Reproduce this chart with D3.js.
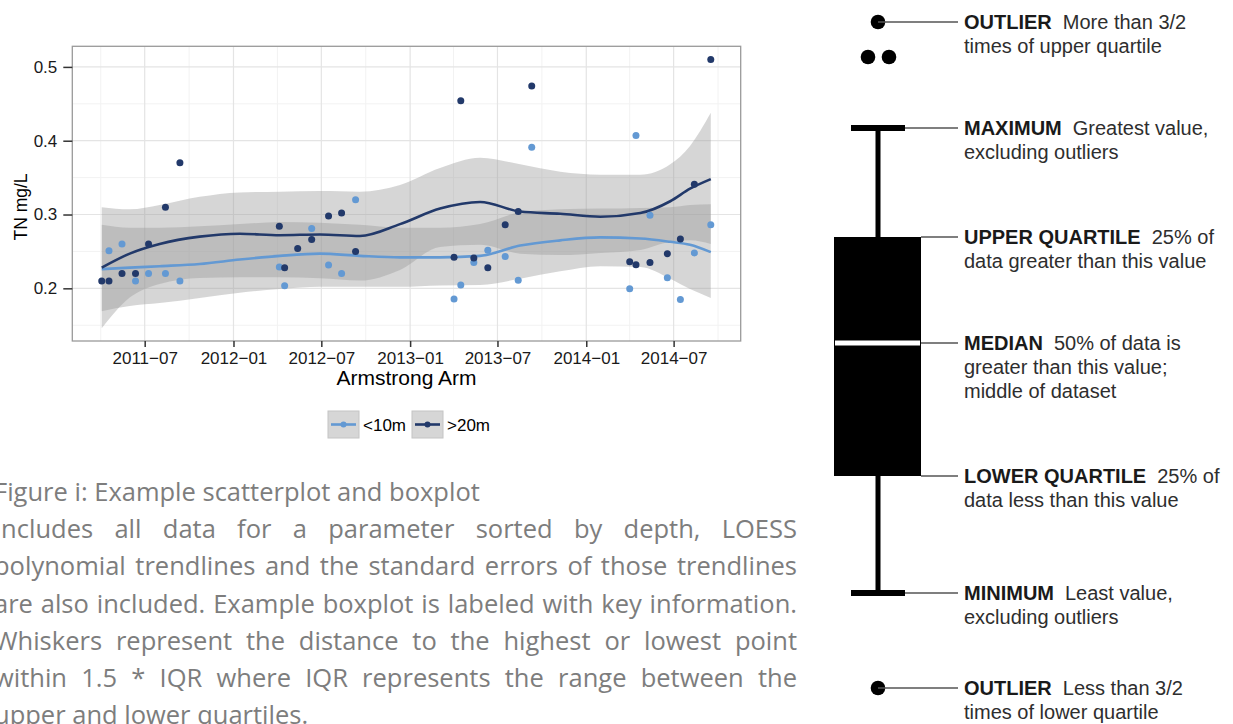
<!DOCTYPE html>
<html>
<head>
<meta charset="utf-8">
<script src="https://cdn.jsdelivr.net/npm/d3@7"></script>
<style>
  body { margin: 0; background: #fff; overflow: hidden; }
  svg { display: block; }
</style>
</head>
<body>
<script>
// ---- data ----
const seriesNames = ['<10m', '>20m'];
const seriesColors = ['#6399d3', '#22396a'];

const shallowDates = ['2011-04-18','2011-05-15','2011-06-12','2011-07-09','2011-08-13','2011-09-12',
  '2012-04-05','2012-04-16','2012-06-11','2012-07-16','2012-08-12','2012-09-10',
  '2013-04-02','2013-04-16','2013-05-13','2013-06-11','2013-07-17','2013-08-13','2013-09-10',
  '2014-04-01','2014-04-14','2014-05-13','2014-06-18','2014-07-15','2014-08-13','2014-09-16'];
const shallowTN = [0.251,0.260,0.210,0.220,0.220,0.210,
  0.229,0.2035,0.281,0.2315,0.220,0.320,
  0.1855,0.2045,0.235,0.2515,0.243,0.211,0.391,
  0.1995,0.407,0.299,0.2145,0.185,0.248,0.286];

const deepDates = ['2011-04-03','2011-04-18','2011-05-15','2011-06-12','2011-07-09','2011-08-13','2011-09-12',
  '2012-04-05','2012-04-16','2012-05-13','2012-06-11','2012-07-16','2012-08-12','2012-09-10',
  '2013-04-02','2013-04-16','2013-05-13','2013-06-11','2013-07-17','2013-08-13','2013-09-10',
  '2014-04-01','2014-04-14','2014-05-13','2014-06-18','2014-07-15','2014-08-13','2014-09-16'];
const deepTN = [0.210,0.210,0.220,0.220,0.260,0.310,0.370,
  0.284,0.228,0.254,0.266,0.298,0.302,0.250,
  0.242,0.454,0.241,0.228,0.286,0.304,0.474,
  0.236,0.232,0.235,0.247,0.267,0.341,0.510];

// LOESS fits and their standard-error bands, read at these dates
const fitDates = ['2011-04-03','2011-05-31','2011-08-01','2011-10-23','2012-01-14','2012-04-06',
  '2012-06-28','2012-09-19','2012-12-11','2013-03-04','2013-05-26','2013-08-17',
  '2013-11-08','2014-01-30','2014-04-23','2014-06-24','2014-08-04','2014-09-16'];
const shallowFit = [0.226,0.228,0.230,0.233,0.239,0.244,0.247,0.244,0.242,0.242,0.244,0.258,0.265,0.269,0.2675,0.263,0.259,0.249];
const shallowHi  = [0.286,0.282,0.282,0.284,0.287,0.290,0.289,0.286,0.282,0.282,0.287,0.303,0.307,0.308,0.309,0.310,0.313,0.314];
const shallowLo  = [0.169,0.176,0.180,0.187,0.194,0.199,0.202,0.202,0.202,0.204,0.2045,0.213,0.223,0.230,0.229,0.213,0.199,0.187];
const deepFit = [0.228,0.247,0.260,0.270,0.274,0.272,0.273,0.271,0.287,0.308,0.317,0.304,0.301,0.297,0.302,0.318,0.335,0.348];
const deepHi  = [0.310,0.307,0.313,0.324,0.330,0.331,0.332,0.331,0.340,0.363,0.377,0.368,0.358,0.354,0.354,0.368,0.393,0.438];
const deepLo  = [0.146,0.1875,0.206,0.214,0.215,0.215,0.2135,0.2106,0.225,0.256,0.259,0.247,0.245,0.248,0.252,0.263,0.265,0.260];

const xTickDates = ['2011-07-01','2012-01-01','2012-07-01','2013-01-01','2013-07-01','2014-01-01','2014-07-01'];
const xMinorDates = ['2011-04-01','2011-10-01','2012-04-01','2012-10-01','2013-04-01','2013-10-01','2014-04-01','2014-10-01'];
const yTicks = [0.2, 0.3, 0.4, 0.5];
const yMinor = [0.15, 0.25, 0.35, 0.45];

const captionLines = [
  'Figure i: Example scatterplot and boxplot',
  'Includes all data for a parameter sorted by depth, LOESS',
  'polynomial trendlines and the standard errors of those trendlines',
  'are also included. Example boxplot is labeled with key information.',
  'Whiskers represent the distance to the highest or lowest point',
  'within 1.5 * IQR where IQR represents the range between the',
  'upper and lower quartiles.'
];
const captionJustify = [false, true, true, true, true, true, false];

// boxplot schematic (arbitrary units)
const boxStats = { min: 10.7, q1: 22.4, median: 35.7, q3: 46.3, max: 57.2 };
const upperOutliers = [{ v: 67.8, dx: 0 }, { v: 64.3, dx: -10 }, { v: 64.3, dx: 11 }];
const lowerOutliers = [{ v: 1.2, dx: 0 }];
const boxNotes = [
  { key: 'outHi', bold: 'OUTLIER', text: 'More than 3/2', lines: ['times of upper quartile'] },
  { key: 'max', bold: 'MAXIMUM', text: 'Greatest value,', lines: ['excluding outliers'] },
  { key: 'q3', bold: 'UPPER QUARTILE', text: '25% of', lines: ['data greater than this value'] },
  { key: 'median', bold: 'MEDIAN', text: '50% of data is', lines: ['greater than this value;', 'middle of dataset'] },
  { key: 'q1', bold: 'LOWER QUARTILE', text: '25% of', lines: ['data less than this value'] },
  { key: 'min', bold: 'MINIMUM', text: 'Least value,', lines: ['excluding outliers'] },
  { key: 'outLo', bold: 'OUTLIER', text: 'Less than 3/2', lines: ['times of lower quartile'] }
];

// ---- setup ----
const W = 1233, H = 724;
const parse = d3.utcParse('%Y-%m-%d');
const svg = d3.select('body').append('svg').attr('width', W).attr('height', H);
const font = '"Liberation Sans", Arial, sans-serif';

const panel = { left: 72.3, top: 46.3, right: 740.7, bottom: 341 };
const x = d3.scaleUtc()
  .domain([parse('2011-02-01'), parse('2014-11-17')])
  .range([panel.left, panel.right]);
const y = d3.scaleLinear()
  .domain([0.12864, 0.52791])
  .range([panel.bottom, panel.top]);

const plot = svg.append('g');
plot.append('rect')
  .attr('x', panel.left).attr('y', panel.top)
  .attr('width', panel.right - panel.left).attr('height', panel.bottom - panel.top)
  .attr('fill', '#fff');

// grid
const grid = plot.append('g');
grid.selectAll('.vmin').data(xMinorDates).enter().append('line')
  .attr('x1', d => x(parse(d))).attr('x2', d => x(parse(d)))
  .attr('y1', panel.top).attr('y2', panel.bottom)
  .attr('stroke', '#f2f2f2').attr('stroke-width', 1);
grid.selectAll('.hmin').data(yMinor).enter().append('line')
  .attr('y1', d => y(d)).attr('y2', d => y(d))
  .attr('x1', panel.left).attr('x2', panel.right)
  .attr('stroke', '#f2f2f2').attr('stroke-width', 1);
grid.selectAll('.vmaj').data(xTickDates).enter().append('line')
  .attr('x1', d => x(parse(d))).attr('x2', d => x(parse(d)))
  .attr('y1', panel.top).attr('y2', panel.bottom)
  .attr('stroke', '#e4e4e4').attr('stroke-width', 1.2);
grid.selectAll('.hmaj').data(yTicks).enter().append('line')
  .attr('y1', d => y(d)).attr('y2', d => y(d))
  .attr('x1', panel.left).attr('x2', panel.right)
  .attr('stroke', '#e4e4e4').attr('stroke-width', 1.2);

// smooths
const fits = [
  fitDates.map((d, i) => ({ date: parse(d), fit: shallowFit[i], lo: shallowLo[i], hi: shallowHi[i] })),
  fitDates.map((d, i) => ({ date: parse(d), fit: deepFit[i], lo: deepLo[i], hi: deepHi[i] }))
];
const area = d3.area().x(d => x(d.date)).y0(d => y(d.lo)).y1(d => y(d.hi)).curve(d3.curveMonotoneX);
const line = d3.line().x(d => x(d.date)).y(d => y(d.fit)).curve(d3.curveMonotoneX);

fits.forEach(f => {
  plot.append('path').attr('d', area(f)).attr('fill', '#999999').attr('fill-opacity', 0.4);
});
fits.forEach((f, i) => {
  plot.append('path').attr('d', line(f)).attr('fill', 'none')
    .attr('stroke', seriesColors[i]).attr('stroke-width', 2.6);
});

// points
const pts = [
  shallowDates.map((d, i) => ({ date: parse(d), v: shallowTN[i] })),
  deepDates.map((d, i) => ({ date: parse(d), v: deepTN[i] }))
];
pts.forEach((p, i) => {
  plot.append('g').selectAll('circle').data(p).enter().append('circle')
    .attr('cx', d => x(d.date)).attr('cy', d => y(d.v)).attr('r', 3.5)
    .attr('fill', seriesColors[i]);
});

// border
plot.append('rect')
  .attr('x', panel.left).attr('y', panel.top)
  .attr('width', panel.right - panel.left).attr('height', panel.bottom - panel.top)
  .attr('fill', 'none').attr('stroke', '#9a9a9a').attr('stroke-width', 1.3);

// axes
const xAxis = d3.axisBottom(x)
  .tickValues(xTickDates.map(parse))
  .tickFormat(d3.utcFormat('%Y\u2212%m'))
  .tickSize(6).tickPadding(5);
const gx = svg.append('g').attr('transform', `translate(0,${panel.bottom})`).call(xAxis);
const yAxis = d3.axisLeft(y).tickValues(yTicks).tickFormat(d3.format('.1f')).tickSize(9).tickPadding(6);
const gy = svg.append('g').attr('transform', `translate(${panel.left},0)`).call(yAxis);
[gx, gy].forEach(g => {
  g.select('.domain').remove();
  g.selectAll('.tick line').attr('stroke', '#333').attr('stroke-width', 1.5);
  g.selectAll('.tick text').attr('fill', '#1a1a1a').style('font-family', font).style('font-size', '17px');
});

svg.append('text')
  .attr('x', (panel.left + panel.right) / 2).attr('y', 385)
  .attr('text-anchor', 'middle')
  .style('font-family', font).style('font-size', '21px').attr('fill', '#000')
  .text('Armstrong Arm');
svg.append('text')
  .attr('transform', 'translate(27,207) rotate(-90)')
  .attr('text-anchor', 'middle')
  .style('font-family', font).style('font-size', '17.5px').attr('fill', '#000')
  .text('TN  mg/L');

// legend
const legX = [328, 412];
const legend = svg.append('g');
seriesNames.forEach((name, i) => {
  const g = legend.append('g').attr('transform', `translate(${legX[i]},411)`);
  g.append('rect').attr('width', 31).attr('height', 27)
    .attr('fill', '#d6d6d6').attr('stroke', '#c4c4c4').attr('stroke-width', 1);
  g.append('line').attr('x1', 3).attr('x2', 28).attr('y1', 13.5).attr('y2', 13.5)
    .attr('stroke', seriesColors[i]).attr('stroke-width', 2.6);
  g.append('circle').attr('cx', 15.5).attr('cy', 13.5).attr('r', 3).attr('fill', seriesColors[i]);
  g.append('text').attr('x', 35).attr('y', 19.5)
    .style('font-family', font).style('font-size', '17px').attr('fill', '#000')
    .text(name);
});

// caption, justified by word spacing
const capLeft = -6, capRight = 797;
const cap = svg.append('g');
captionLines.forEach((t, i) => {
  const tx = cap.append('text')
    .attr('x', capLeft).attr('y', 501 + i * 37.2)
    .style('font-family', '"Open Sans", "Noto Sans", sans-serif').style('font-size', '25.5px')
    .attr('fill', '#7d7d7d')
    .text(t);
  if (captionJustify[i]) {
    const len = tx.node().getComputedTextLength();
    const spaces = t.split(' ').length - 1;
    tx.style('word-spacing', ((capRight - capLeft - len) / spaces) + 'px');
  }
});

// boxplot schematic
const by = d3.scaleLinear().domain([0, 70]).range([700, 0]);
const bx = 878, boxL = 834, boxR = 921, capHalf = 27, noteX = 958, textX = 964;
const box = svg.append('g');
box.append('line').attr('x1', bx).attr('x2', bx).attr('y1', by(boxStats.max)).attr('y2', by(boxStats.min))
  .attr('stroke', '#000').attr('stroke-width', 5);
['max', 'min'].forEach(k => {
  box.append('line').attr('x1', bx - capHalf).attr('x2', bx + capHalf)
    .attr('y1', by(boxStats[k])).attr('y2', by(boxStats[k]))
    .attr('stroke', '#000').attr('stroke-width', 6);
});
box.append('rect').attr('x', boxL).attr('width', boxR - boxL)
  .attr('y', by(boxStats.q3)).attr('height', by(boxStats.q1) - by(boxStats.q3))
  .attr('fill', '#000');
box.append('line').attr('x1', boxL + 1).attr('x2', boxR - 1)
  .attr('y1', by(boxStats.median)).attr('y2', by(boxStats.median))
  .attr('stroke', '#fff').attr('stroke-width', 5);
box.selectAll('.oh').data(upperOutliers.concat(lowerOutliers)).enter().append('circle')
  .attr('cx', d => bx + d.dx).attr('cy', d => by(d.v)).attr('r', 7.3).attr('fill', '#000');

const noteY = {
  outHi: by(upperOutliers[0].v), max: by(boxStats.max), q3: by(boxStats.q3),
  median: by(boxStats.median), q1: by(boxStats.q1), min: by(boxStats.min), outLo: by(lowerOutliers[0].v)
};
const noteStart = { outHi: bx, max: bx + capHalf, q3: boxR, median: boxR, q1: boxR, min: bx + capHalf, outLo: bx };
boxNotes.forEach(n => {
  const yy = noteY[n.key];
  box.append('line').attr('x1', noteStart[n.key]).attr('x2', noteX).attr('y1', yy).attr('y2', yy)
    .attr('stroke', '#555').attr('stroke-width', 1.5);
  const t = box.append('text').attr('x', textX).attr('y', yy + 7)
    .style('font-family', font).style('font-size', '20px');
  t.append('tspan').attr('font-weight', 'bold').attr('fill', '#1a1a1a').text(n.bold);
  t.append('tspan').attr('dx', 11).attr('fill', '#2e2e2e').text(n.text);
  n.lines.forEach((l, j) => {
    box.append('text').attr('x', textX).attr('y', yy + 7 + 24 * (j + 1))
      .style('font-family', font).style('font-size', '20px').attr('fill', '#2e2e2e')
      .text(l);
  });
});
</script>
</body>
</html>
